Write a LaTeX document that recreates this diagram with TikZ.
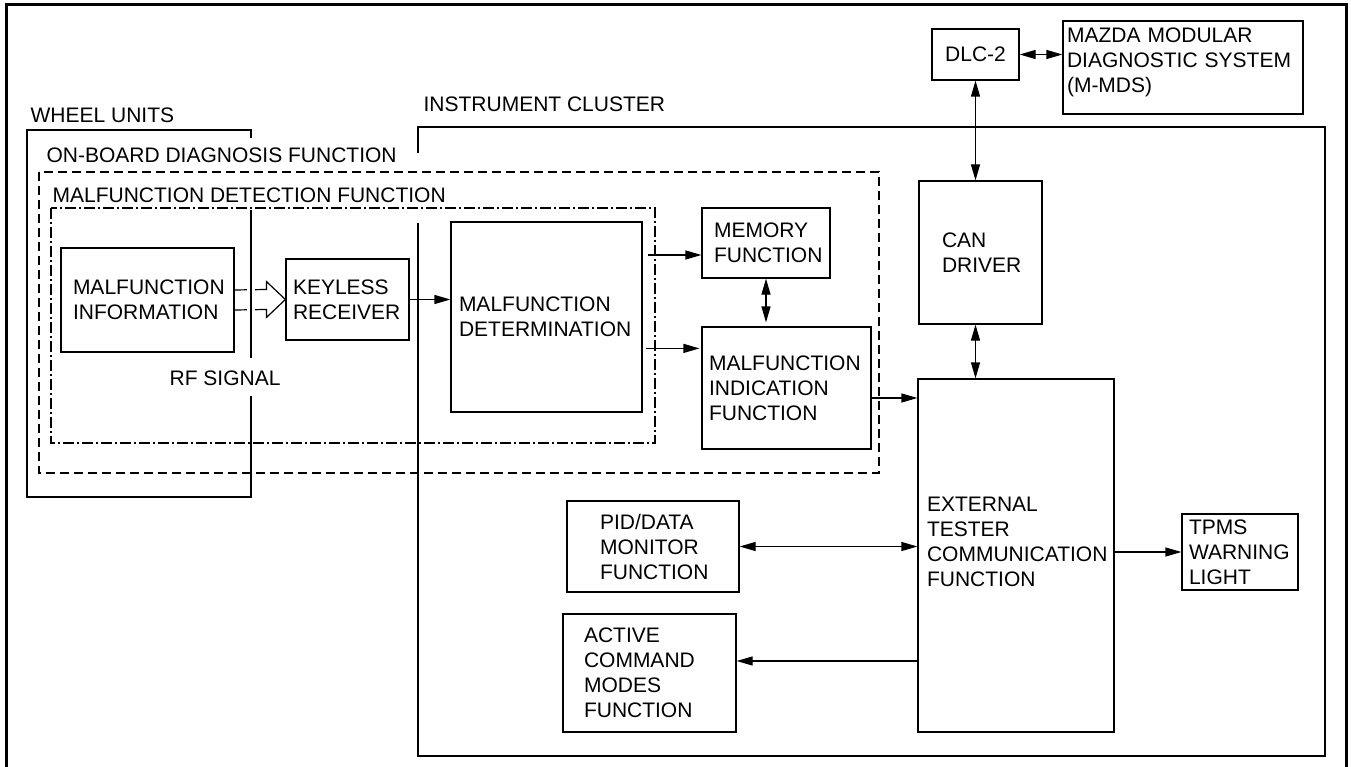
\documentclass[tikz,border=0pt]{standalone}
\usepackage{fontspec}
\setmainfont{Liberation Sans}
\usetikzlibrary{positioning, calc, arrows.meta}
\newcommand\blkfont{\fontsize{21}{25}\selectfont\hyphenpenalty=10000\relax}
\tikzset{
  box/.style={draw, line width=1.2pt, align=left, inner ysep=0pt, font=\blkfont},
  lbl/.style={anchor=base west, inner sep=0pt, font=\blkfont},
  arr/.style={line width=1.2pt, -{Triangle[length=16pt,width=9pt]}},
  dbl/.style={line width=1.2pt, {Triangle[length=16pt,width=9pt]}-{Triangle[length=16pt,width=9pt]}},
  obd/.style={line width=1.2pt, dash pattern=on 9pt off 5pt},
  mdf/.style={line width=1.2pt, dash pattern=on 11pt off 3pt on 2pt off 3pt},
}
\begin{document}
\begin{tikzpicture}[x=1pt, y=-1pt, line width=1.2pt]
        \useasboundingbox (0,0) rectangle (1351,767);
        %disegno cornice
        \draw[line width=3pt] (6,767) -- (6,5) -- (1346,5) -- (1346,767);
        %disegno instrument cluster e wheel units
        \draw[line width=2.2pt] (418,153) -- (418,127) -- (1325,127) -- (1325,756) -- (418,756) -- (418,223);
        \draw (251,138) -- (251,130) -- (27,130) -- (27,497) -- (251,497) -- (251,396);
        \draw (251,358) -- (251,210);
        \node[lbl] (wu) at (30,123) {WHEEL UNITS};
        \node[lbl] (ic) at (423,112) {INSTRUMENT CLUSTER};
        %disegno riquadri tratteggiati
        \draw[obd] (39,172) rectangle (879,473);
        \draw[mdf] (51,208) rectangle (655,443);
        \node[lbl] (obdl) at (46,163) {ON-BOARD DIAGNOSIS FUNCTION};
        \node[lbl] (mdfl) at (52,203) {MALFUNCTION DETECTION FUNCTION};
        \node[lbl] (rf) at (169,385) {RF SIGNAL};
        %disegno blocchi
        \node[box, minimum width=173pt, minimum height=104pt, text width=149pt, inner xsep=12pt] (minfo) at (147.5,300) {MALFUNCTION\\INFORMATION};
        \node[box, minimum width=123pt, minimum height=81pt, text width=109pt, inner xsep=7pt] (keyless) at (347.5,299.5) {KEYLESS\\RECEIVER};
        \node[box, minimum width=191pt, minimum height=190pt, text width=175pt, inner xsep=8pt] (mdet) at (546.5,317) {MALFUNCTION\\DETERMINATION};
        \node[box, minimum width=128pt, minimum height=70pt, text width=104pt, inner xsep=12pt] (mem) at (766,243) {MEMORY\\FUNCTION};
        \node[box, minimum width=169pt, minimum height=122pt, text width=155pt, inner xsep=7pt] (mind) at (786.5,388) {MALFUNCTION\\INDICATION\\FUNCTION};
        \node[box, minimum width=87pt, minimum height=51pt] (dlc) at (975.5,54.5) {DLC-2};
        \node[box, minimum width=240pt, minimum height=93pt, text width=232pt, inner xsep=4pt, text depth=64pt] (mmds) at (1183,67.5) {MAZDA MODULAR\\DIAGNOSTIC SYSTEM\\(M-MDS)};
        \node[box, minimum width=123pt, minimum height=143pt, text width=77pt, inner xsep=23pt] (can) at (980.5,252.5) {CAN\\DRIVER};
        \node[box, minimum width=196pt, minimum height=353pt, text width=178pt, inner xsep=9pt, text depth=102pt] (ext) at (1016,555.5) {EXTERNAL\\TESTER\\COMMUNICATION\\FUNCTION};
        \node[box, minimum width=116pt, minimum height=76pt, text width=102pt, inner xsep=7pt] (tpms) at (1240,552) {TPMS\\WARNING\\LIGHT};
        \node[box, minimum width=172pt, minimum height=91pt, text width=106pt, inner xsep=33pt] (pid) at (653,546.5) {PID/DATA\\MONITOR\\FUNCTION};
        \node[box, minimum width=173pt, minimum height=118pt, text width=131pt, inner xsep=21pt] (act) at (649.5,673) {ACTIVE\\COMMAND\\MODES\\FUNCTION};
        %disegno freccia rf
        \coordinate (rf tip) at (keyless.west);
        \draw ($(minfo.east)+(0,-10)$) -- ($(rf tip)+(-19,-10)$) -- ($(rf tip)+(-19,-18)$) -- (rf tip)
              -- ($(rf tip)+(-19,18)$) -- ($(rf tip)+(-19,10)$) -- ($(minfo.east)+(0,10)$);
        \fill[white] (247,280) rectangle (255,320);
        \draw (251,280) -- (251,320);
        %disegno frecce
        \draw[arr] (keyless.east) -- (keyless.east -| mdet.west);
        \draw[arr] ($(mdet.east |- mem.west)+(5,12)$) -- ($(mem.west)+(0,12)$);
        \draw[arr] ($(mdet.east |- mind.north west)+(3,22)$) -- ($(mind.north west)+(-2,22)$);
        \draw[dbl, shorten >=4pt] (mem.south) -- (mem.south |- mind.north);
        \coordinate (mi out) at ($(mind.east)+(0,10)$);
        \draw[arr] (mi out) -- (mi out -| ext.west);
        \draw[dbl] (dlc.east) -- (dlc.east -| mmds.west);
        \draw[dbl] (dlc.south) -- (dlc.south |- can.north);
        \draw[dbl] (dlc.south |- can.south) -- (dlc.south |- ext.north);
        \draw[arr] (ext.east |- tpms.west) -- (tpms.west);
        \draw[dbl] (pid.east) -- (pid.east -| ext.west);
        \coordinate (ac in) at ($(act.east)+(0,-12)$);
        \draw[arr] (ac in -| ext.west) -- (ac in);
    \end{tikzpicture}
\end{document}
